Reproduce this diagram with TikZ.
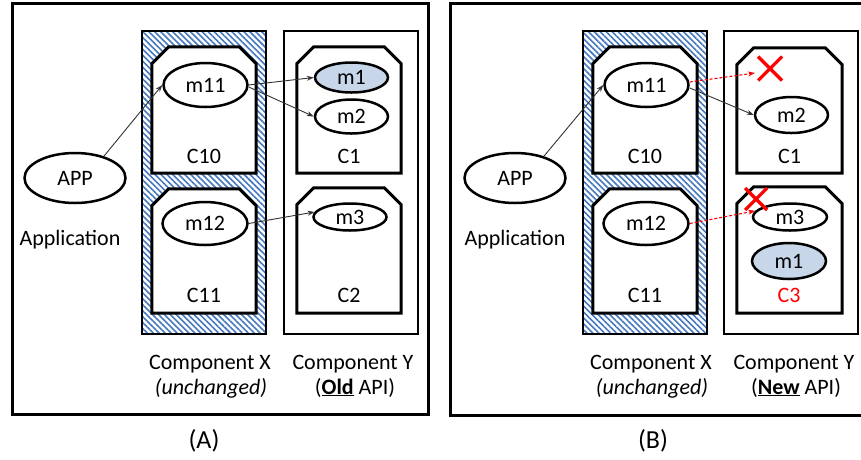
\documentclass[tikz,border=0pt]{standalone}
\usepackage{fontspec}
\setmainfont{Carlito}
\usetikzlibrary{arrows.meta,patterns.meta,shapes.geometric}
\definecolor{hatchblue}{RGB}{70,120,190}
\definecolor{shadeblue}{RGB}{200,214,234}
\definecolor{callgray}{RGB}{50,50,50}
% class box: rectangle with the two upper corners cut off
\newcommand\chamferbox[1]{%
  \draw[classbox] (#1.south west) -- ([yshift=-17pt]#1.north west)
    -- ([xshift=17pt]#1.north west) -- ([xshift=-17pt]#1.north east)
    -- ([yshift=-17pt]#1.north east) -- (#1.south east) -- cycle;}
% red cross marking a removed method
\newcommand\crossmark[2]{%
  \draw[redcross] ([shift={(-#2pt,#2pt)}]#1) -- ([shift={(#2pt,-#2pt)}]#1)
    ([shift={(-#2pt,-#2pt)}]#1) -- ([shift={(#2pt,#2pt)}]#1);}
\tikzset{
  txt/.style={font=\fontsize{22}{26}\selectfont, inner sep=0pt},
  title/.style={font=\fontsize{26}{30}\selectfont, inner sep=0pt},
  panel/.style={rectangle, draw, line width=3pt, inner sep=0pt},
  compx/.style={rectangle, draw, line width=2.5pt, inner sep=0pt,
    pattern={Lines[angle=-45,distance=4.2pt,line width=1.6pt]}, pattern color=hatchblue},
  compy/.style={rectangle, draw, line width=2.5pt, inner sep=0pt},
  boxarea/.style={rectangle, draw=none, inner sep=0pt},
  classbox/.style={draw, line width=3pt, fill=white, line join=miter},
  meth/.style={ellipse, draw, line width=2.5pt, fill=white, inner sep=0pt, txt},
  moved/.style={meth, fill=shadeblue},
  call/.style={-{Stealth[length=7pt,width=5pt]}, line width=0.9pt, draw=callgray},
  lostcall/.style={-{Stealth[length=7pt,width=5pt]}, line width=1.1pt, draw=red,
    dash pattern=on 3pt off 2pt},
  redcross/.style={draw=red, line width=3.2pt},
}
\begin{document}
\begin{tikzpicture}[x=1pt, y=-1pt]
\useasboundingbox (0,0) rectangle (861,459);
\clip (0,0) rectangle (861,459);

% ---------------- (A) old API ----------------
\node[panel, minimum width=416pt, minimum height=411pt] (pa) at (220,208.5) {};
\node[compx, minimum width=124pt, minimum height=303pt] (acx) at (204,182.5) {};
\node[compy, minimum width=134pt, minimum height=303pt] (acy) at (351,182.5) {};

\node[boxarea, minimum width=104pt, minimum height=126pt] (ac10) at (204,110) {};
\node[boxarea, minimum width=104pt, minimum height=124pt] (ac11) at (204,251) {};
\node[boxarea, minimum width=104pt, minimum height=126pt] (ac1) at (349,110) {};
\node[boxarea, minimum width=104pt, minimum height=125pt] (ac2) at (349,250.5) {};
\chamferbox{ac10}
\chamferbox{ac11}
\chamferbox{ac1}
\chamferbox{ac2}

\node[meth, minimum width=101pt, minimum height=50pt] (aapp) at (75,178) {APP};
\node[meth, minimum width=84pt, minimum height=44pt] (am11) at (205.5,85) {m11};
\node[meth, minimum width=85pt, minimum height=43pt] (am12) at (205,223.5) {m12};
\node[moved, minimum width=73pt, minimum height=30pt] (am1) at (351.5,77.5) {m1};
\node[meth, minimum width=73pt, minimum height=34pt] (am2) at (351.5,116.5) {m2};
\node[meth, minimum width=73pt, minimum height=27pt] (am3) at (350,217) {m3};

\node[txt, anchor=base] (aappl) at (70,245) {Application};
\node[txt, anchor=base] (ac10l) at (204,163) {C10};
\node[txt, anchor=base] (ac1l) at (349,163) {C1};
\node[txt, anchor=base] (ac11l) at (204,302) {C11};
\node[txt, anchor=base] (ac2l) at (349,302) {C2};
\node[txt, anchor=base] (acxl) at (210,369) {Component X};
\node[txt, anchor=base] (acxs) at (211,394) {\itshape (unchanged)};
\node[txt, anchor=base] (acyl) at (353,369) {Component Y};
\node[txt, anchor=base] (acys) at (355,394) {(\underline{\textbf{Old}} API)};
\node[title, anchor=base] (atitle) at (204,448) {(A)};

\draw[call] (aapp.37) -- (am11.west);
\draw[call] (am11.east) -- (am1.west);
\draw[call] ([yshift=-2pt]am11.east) -- (am2.west);
\draw[call] (am12.east) -- (am3.172);

% ---------------- (B) new API ----------------
\node[panel, minimum width=416pt, minimum height=412pt] (pb) at (658,209) {};
\node[title, anchor=base] (btitle) at (653,448) {(B)};
\begin{scope}[xshift=441pt]
\node[compx, minimum width=124pt, minimum height=303pt] (bcx) at (204,182.5) {};
\node[compy, minimum width=134pt, minimum height=303pt] (bcy) at (350,182.5) {};

\node[boxarea, minimum width=104pt, minimum height=126pt] (bc10) at (204,110) {};
\node[boxarea, minimum width=104pt, minimum height=124pt] (bc11) at (204,251) {};
\node[boxarea, minimum width=105pt, minimum height=125pt] (bc1) at (348.5,110.5) {};
\node[boxarea, minimum width=105pt, minimum height=126pt] (bc3) at (348.5,250) {};
\chamferbox{bc10}
\chamferbox{bc11}
\chamferbox{bc1}
\chamferbox{bc3}

\node[meth, minimum width=101pt, minimum height=50pt] (bapp) at (74,178) {APP};
\node[meth, minimum width=84pt, minimum height=44pt] (bm11) at (205.5,85) {m11};
\node[meth, minimum width=85pt, minimum height=43pt] (bm12) at (205,223.5) {m12};
\node[meth, minimum width=73pt, minimum height=36pt] (bm2) at (350.5,115) {m2};
\node[meth, minimum width=74pt, minimum height=27pt] (bm3) at (349,217) {m3};
\node[moved, minimum width=74pt, minimum height=36pt] (bm1) at (348,261) {m1};

\node[txt, anchor=base] (bappl) at (74,245) {Application};
\node[txt, anchor=base] (bc10l) at (204,163) {C10};
\node[txt, anchor=base] (bc1l) at (348.5,163) {C1};
\node[txt, anchor=base] (bc11l) at (204,302) {C11};
\node[txt, anchor=base, text=red] (bc3l) at (348,302) {C3};
\node[txt, anchor=base] (bcxl) at (210,369) {Component X};
\node[txt, anchor=base] (bcxs) at (211,394) {\itshape (unchanged)};
\node[txt, anchor=base] (bcyl) at (353,369) {Component Y};
\node[txt, anchor=base] (bcys) at (355,394) {(\underline{\textbf{New}} API)};

\coordinate (blost) at (314,73);
\coordinate (bx1) at (329,68.5);
\coordinate (bx2) at (315,199);

\draw[call] (bapp.37) -- (bm11.west);
\draw[lostcall] ([yshift=3pt]bm11.east) -- (blost);
\draw[call] ([yshift=-3pt]bm11.east) -- (bm2.west);
\draw[lostcall] (bm12.east) -- (bm3.170);
\crossmark{bx1}{12}
\crossmark{bx2}{11}
\end{scope}
\end{tikzpicture}
\end{document}
